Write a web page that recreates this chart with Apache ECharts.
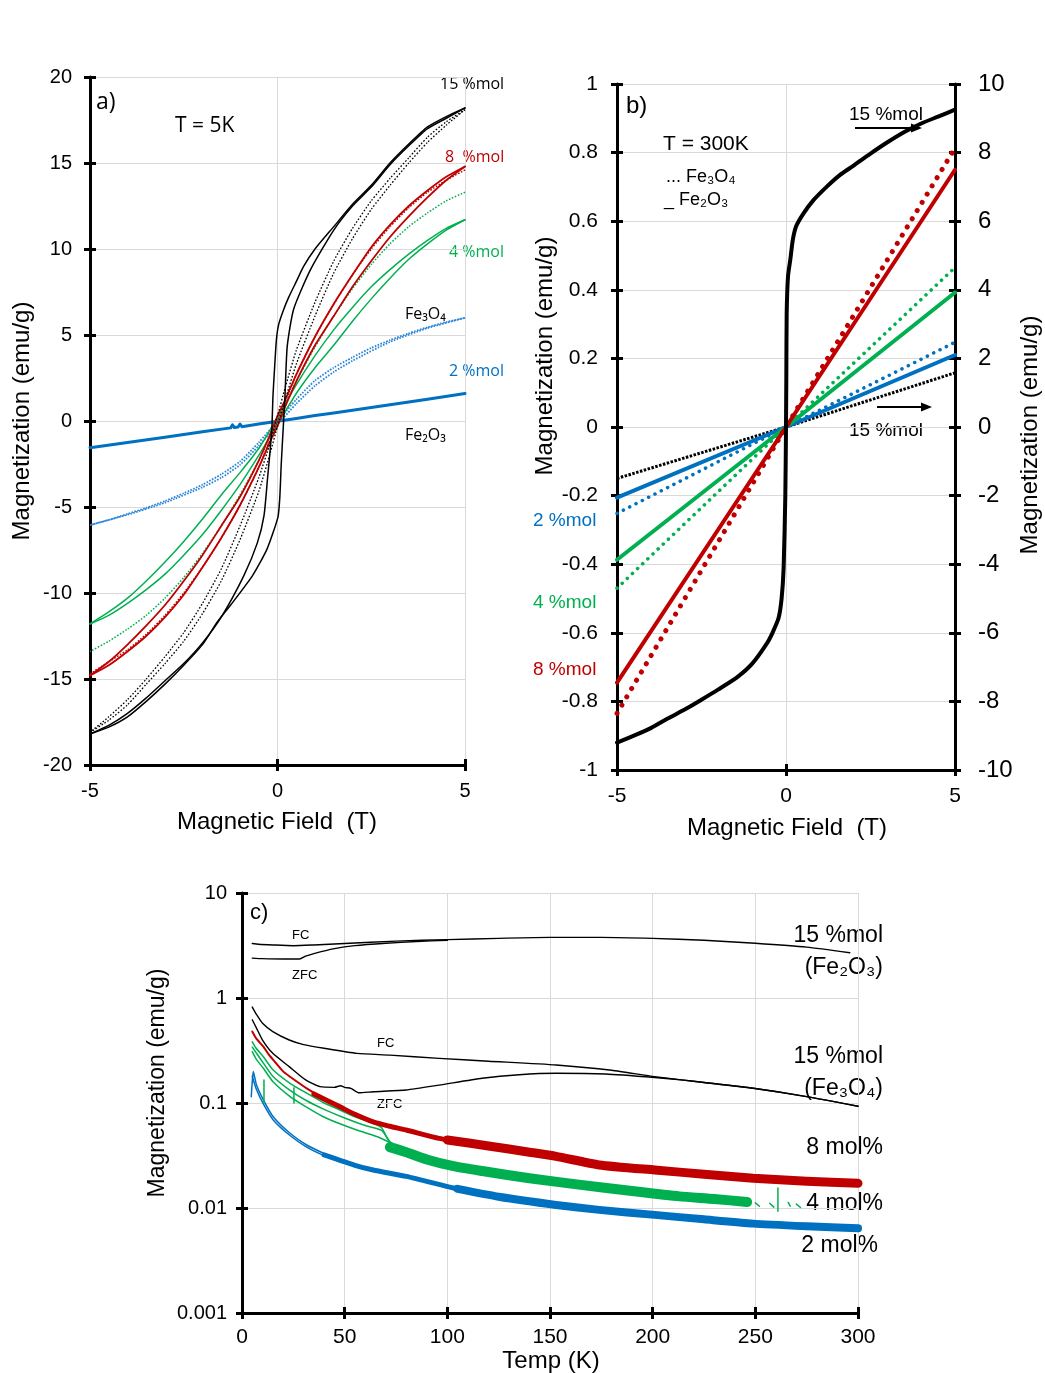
<!DOCTYPE html>
<html><head><meta charset="utf-8">
<script src="https://cdn.jsdelivr.net/npm/echarts@6/dist/echarts.min.js"></script>
<style>html,body{margin:0;padding:0;background:#fff}#c{width:1045px;height:1373px}</style>
</head><body><div id="c"></div>
<script>
// ---------- Panel a (T = 5K), [field T, magnetization emu/g] ----------
const aXTicks = [-5, 0, 5];
const aFe2O3_15_desc = [[5,18.2],[4.5,17.7],[4,17.1],[3.5,16.1],[3,15.0],[2.5,13.7],[2,12.6],[1.5,11.3],[1,10.0],[0.7,9.0],[0.5,8.1],[0.3,7.2],[0.15,6.4],[0.03,5.6],[-0.03,4.7],[-0.08,3.0],[-0.12,1.5],[-0.15,-0.4],[-0.2,-1.8],[-0.26,-3.2],[-0.36,-5.5],[-0.54,-7.1],[-0.9,-9.0],[-1.5,-11.4],[-2,-12.9],[-2.5,-14.1],[-3,-15.1],[-3.5,-16.1],[-4,-17.0],[-4.5,-17.7],[-5,-18.2]];
const aFe2O3_15_asc = [[-5,-18.2],[-4.5,-17.8],[-4,-17.2],[-3.5,-16.3],[-3,-15.3],[-2.5,-14.2],[-2,-13.0],[-1.61,-11.7],[-1.25,-10.7],[-0.67,-9.0],[-0.28,-7.45],[0.01,-5.6],[0.06,-4.5],[0.1,-2.5],[0.15,-0.5],[0.2,1.5],[0.26,4.35],[0.43,6.5],[0.88,8.8],[1.5,11.1],[2,12.5],[2.5,13.6],[3,14.9],[3.5,16.0],[4,17.0],[4.5,17.6],[5,18.2]];
const aFe3O4_15_desc = [[5,18.1],[4.5,17.4],[4,16.5],[3.5,15.3],[3,14.1],[2.5,12.8],[2,11.2],[1.5,9.3],[1,6.9],[0.5,4.1],[0.2,1.9],[0,0.3],[-0.2,-1.3],[-0.5,-3.3],[-1,-6.1],[-1.5,-8.6],[-2,-10.6],[-2.5,-12.3],[-3,-13.7],[-3.5,-15.0],[-4,-16.2],[-4.5,-17.2],[-5,-18.1]];
const aFe3O4_15_asc = [[-5,-18.1],[-4.5,-17.4],[-4,-16.5],[-3.5,-15.3],[-3,-14.1],[-2.5,-12.8],[-2,-11.2],[-1.5,-9.3],[-1,-6.9],[-0.5,-4.1],[-0.2,-1.9],[0,-0.3],[0.2,1.2],[0.5,3.3],[1,6.1],[1.5,8.6],[2,10.6],[2.5,12.3],[3,13.7],[3.5,15.0],[4,16.2],[4.5,17.2],[5,18.1]];
const aFe2O3_8_desc = [[5,14.8],[4.5,14.2],[4,13.4],[3.5,12.5],[3,11.4],[2.5,10.1],[2,8.5],[1.5,6.8],[1,4.9],[0.5,2.7],[0.2,1.2],[0,0.3],[-0.2,-0.8],[-0.5,-2.3],[-1,-4.4],[-1.5,-6.1],[-2,-7.8],[-2.5,-9.3],[-3,-10.7],[-3.5,-11.9],[-4,-13.0],[-4.5,-14.0],[-5,-14.8]];
const aFe2O3_8_asc = [[-5,-14.8],[-4.5,-14.2],[-4,-13.4],[-3.5,-12.5],[-3,-11.4],[-2.5,-10.1],[-2,-8.5],[-1.5,-6.8],[-1,-4.9],[-0.5,-2.7],[-0.2,-1.2],[0,-0.3],[0.2,0.8],[0.5,2.3],[1,4.4],[1.5,6.1],[2,7.8],[2.5,9.3],[3,10.7],[3.5,11.9],[4,13.0],[4.5,14.0],[5,14.8]];
const aFe3O4_8 = [[5,14.6],[4.5,14.0],[4,13.3],[3.5,12.4],[3,11.3],[2.5,10.0],[2,8.5],[1.5,6.8],[1,4.9],[0.5,2.7],[0,0],[-0.5,-2.7],[-1,-4.9],[-1.5,-6.8],[-2,-8.5],[-2.5,-10.0],[-3,-11.3],[-3.5,-12.4],[-4,-13.3],[-4.5,-14.0],[-5,-14.7]];
const aFe2O3_4_desc = [[5,11.7],[4.5,11.2],[4,10.5],[3.5,9.7],[3,8.8],[2.5,7.8],[2,6.6],[1.5,5.3],[1,3.8],[0.5,2.1],[0,0.2],[-0.5,-1.6],[-1,-3.0],[-1.5,-4.3],[-2,-5.7],[-2.5,-7.0],[-3,-8.2],[-3.5,-9.3],[-4,-10.3],[-4.5,-11.1],[-5,-11.8]];
const aFe2O3_4_asc = [[-5,-11.8],[-4.5,-11.3],[-4,-10.6],[-3.5,-9.8],[-3,-8.9],[-2.5,-7.8],[-2,-6.6],[-1.5,-5.2],[-1,-3.7],[-0.5,-2.0],[0,-0.2],[0.5,1.6],[1,3.1],[1.5,4.4],[2,5.8],[2.5,7.1],[3,8.3],[3.5,9.4],[4,10.3],[4.5,11.1],[5,11.7]];
const aFe3O4_4 = [[5,13.3],[4.5,12.8],[4,12.1],[3.5,11.3],[3,10.3],[2.5,9.1],[2,7.7],[1.5,6.1],[1,4.3],[0.5,2.3],[0,0],[-0.5,-2.3],[-1,-4.3],[-1.5,-6.1],[-2,-7.7],[-2.5,-9.1],[-3,-10.3],[-3.5,-11.3],[-4,-12.1],[-4.5,-12.8],[-5,-13.4]];
const aFe3O4_2_desc = [[5,6.0],[4.5,5.75],[4,5.45],[3.5,5.1],[3,4.7],[2.5,4.25],[2,3.7],[1.5,3.1],[1,2.35],[0.5,1.25],[0,0],[-0.5,-1.25],[-1,-2.35],[-1.5,-3.1],[-2,-3.7],[-2.5,-4.2],[-3,-4.65],[-3.5,-5.05],[-4,-5.4],[-4.5,-5.75],[-5,-6.05]];
const aFe3O4_2_asc = [[-5,-6.05],[-4,-5.45],[-3,-4.75],[-2,-3.85],[-1.5,-3.3],[-1,-2.55],[-0.5,-1.45],[0,-0.2],[0.5,1.0],[1,2.05],[1.5,2.85],[2,3.5],[3,4.6],[4,5.4],[5,6.0]];
const aFe2O3_2 = [[-5,-1.55],[-4,-1.25],[-3,-0.95],[-2,-0.63],[-1.25,-0.4],[-1.2,-0.22],[-1.15,-0.38],[-1.05,-0.35],[-1.0,-0.18],[-0.95,-0.33],[-0.5,-0.18],[0,-0.02],[0.5,0.15],[1,0.32],[1.5,0.46],[2,0.62],[3,0.95],[4,1.27],[5,1.6]];

// ---------- Panel b (T = 300K) ----------
const bFe2O3_15 = [[-5,-9.2],[-4.5,-9.0],[-4,-8.78],[-3.5,-8.5],[-2.93,-8.2],[-2.5,-7.95],[-2,-7.65],[-1.45,-7.3],[-1,-6.9],[-0.56,-6.3],[-0.4,-6.0],[-0.22,-5.57],[-0.13,-5.0],[-0.07,-4.1],[-0.02,-2.0],[0,0],[0.01,1.5],[0.02,3.3],[0.06,4.4],[0.13,4.9],[0.2,5.45],[0.3,5.85],[0.5,6.2],[0.8,6.6],[1.2,7.0],[1.6,7.35],[2,7.62],[2.5,7.97],[3,8.3],[3.5,8.6],[4,8.85],[4.5,9.05],[5,9.25]]; // right axis
const bFe3O4_15 = [[-5,-1.5],[0,0],[5,1.58]]; // right axis
const bFe2O3_8 = [[-5,-0.745],[0,0],[5,0.75]];
const bFe3O4_8 = [[-5,-0.835],[0,0],[5,0.813]];
const bFe2O3_4 = [[-5,-0.387],[0,0],[5,0.392]];
const bFe3O4_4 = [[-5,-0.47],[0,0],[5,0.465]];
const bFe2O3_2 = [[-5,-0.206],[0,0],[5,0.21]];
const bFe3O4_2 = [[-5,-0.252],[0,0],[5,0.247]];

// ---------- Panel c (M vs T) ----------
const cYTicks = [0.001, 0.01, 0.1, 1, 10];
const cFe2O3_FC = [[5,3.3],[8,3.25],[15,3.2],[25,3.15],[35,3.2],[50,3.3],[75,3.48],[100,3.6],[125,3.7],[150,3.78],[175,3.78],[200,3.7],[225,3.55],[250,3.32],[275,3.05],[296,2.7]];
const cFe2O3_ZFC = [[5,2.4],[10,2.37],[20,2.35],[28,2.35],[31,2.5],[35,2.65],[45,2.95],[55,3.15],[70,3.32],[85,3.45],[100,3.55]];
const cFe3O4_FC = [[5,0.82],[7,0.7],[10,0.574],[15,0.478],[23,0.398],[30,0.36],[40,0.332],[56,0.297],[72,0.286],[96,0.266],[120,0.25],[153,0.23],[180,0.205],[201,0.178],[225,0.157],[249,0.138],[275,0.115],[300,0.093]];
const cFe3O4_ZFC = [[5,0.62],[7,0.52],[10,0.398],[15,0.297],[23,0.222],[31,0.166],[38,0.143],[45,0.141],[48,0.146],[50,0.141],[53,0.138],[57,0.125],[64,0.128],[80,0.133],[96,0.148],[117,0.172],[135,0.186],[153,0.192],[177,0.189],[201,0.175],[215,0.165],[225,0.157],[249,0.138],[275,0.115],[300,0.093]];
const c8_early = [[5,0.48],[7,0.41],[10.4,0.344],[13,0.29],[15.2,0.257],[20,0.2],[23.4,0.178],[31.5,0.138],[40,0.11],[47.7,0.092],[55,0.078]];
const c8_band1 = [[35,0.122],[47.7,0.092],[55,0.078],[63.9,0.066],[72,0.06],[80,0.0553],[96,0.046],[110,0.042]];
const c8_band2 = [[100,0.0445],[120,0.039],[140,0.034],[153,0.031],[174,0.0257],[201,0.023],[225,0.021],[249,0.0192],[275,0.018],[300,0.0172]];
const c4_line1 = [[5,0.383],[7,0.33],[10.4,0.276],[15.2,0.206],[23.4,0.154],[31.5,0.124],[40,0.1],[47.7,0.0858],[55,0.074],[63.9,0.064],[68,0.058],[71,0.045],[74,0.038],[80,0.034]];
const c4_line2 = [[5,0.308],[7,0.26],[10.4,0.214],[15,0.16],[23.4,0.115],[30,0.095],[39.6,0.074],[48,0.063],[55.9,0.0553],[65.6,0.048],[72,0.042],[80,0.035]];
const c4_line3 = [[5,0.34],[10.4,0.24],[15,0.18],[23.4,0.132],[31.5,0.105],[40,0.087],[50,0.072],[60,0.061],[68,0.055],[72,0.043],[80,0.034]];
const c4_spikes = [[10.7,0.166],[10.7,0.1],[10.7,'-'],[25.3,0.14],[25.3,0.1]];
const c4_band = [[72,0.038],[80,0.034],[90,0.029],[103,0.025],[117,0.0225],[140,0.0192],[165,0.0166],[190,0.0145],[213,0.0129],[230,0.0122],[246,0.0114]];
const c4_tail = [[250,0.0112],[252,0.0104],[252,'-'],[257,0.0111],[259,0.0102],[259,'-'],[261,0.0155],[261,0.0093],[261,'-'],[266,0.0113],[267,0.0104],[267,'-'],[270,0.0109],[272,0.0101]];
const c2_early1 = [[4.5,0.115],[5,0.16],[5.5,0.199],[7,0.15],[10.4,0.107],[15.2,0.074],[23.4,0.0515],[31.5,0.0398],[40,0.033],[47.7,0.0287],[55,0.026]];
const c2_early2 = [[5,0.18],[7,0.135],[10.4,0.098],[15.2,0.069],[23.4,0.049],[31.5,0.038],[40,0.0315],[47.7,0.0275],[55,0.025]];
const c2_band1 = [[40,0.032],[55,0.0255],[63.9,0.023],[80,0.02],[103,0.0155],[115,0.0138]];
const c2_band2 = [[105,0.0152],[125,0.0128],[153,0.0107],[174,0.0096],[201,0.0086],[225,0.0078],[249,0.0071],[275,0.0067],[300,0.0064]];

const RED = '#c00000', GREEN = '#00b050', BLUE = '#0070c0', LBLUE = '#2a84d8';
const ARIAL = "'Liberation Sans', Arial, sans-serif";
const NARROW = "'Liberation Sans Narrow', 'Liberation Sans', Arial, sans-serif";
const CAL = "'Open Sans', 'Liberation Sans', sans-serif";

function axisMain(grid, min, max, interval, o) {
  o = o || {};
  return Object.assign({
    gridIndex: grid, type: 'value', min, max, interval,
    axisLine: {show: true, onZero: false, lineStyle: {color: '#000', width: 3}},
    axisTick: {show: true, inside: false, length: 6, lineStyle: {color: '#000', width: 3}},
    axisLabel: {show: true, color: '#000', fontSize: 20, fontFamily: ARIAL, margin: 16, showMinLabel: true, showMaxLabel: true},
    splitLine: {show: true, lineStyle: {color: '#d9d9d9', width: 1}}
  }, o);
}
function axisInner(grid, min, max, interval, o) {
  o = o || {};
  return Object.assign({
    gridIndex: grid, type: 'value', min, max, interval,
    axisLine: {show: false, onZero: false},
    axisTick: {show: true, inside: true, length: 6, lineStyle: {color: '#000', width: 3}},
    axisLabel: {show: false}, splitLine: {show: false}
  }, o);
}
function ln(data, xi, yi, color, width, type, smooth) {
  const dashed = Array.isArray(type) && type[0] > 0.5;
  return {
    type: 'line', data, xAxisIndex: xi, yAxisIndex: yi, showSymbol: false, symbol: 'none',
    silent: true, animation: false, connectNulls: false, smooth: smooth || false,
    lineStyle: {color, width, type: type || 'solid', cap: dashed ? 'butt' : 'round', join: 'round'}
  };
}
function txt(t, x, y, size, font, color, align) {
  return {type: 'text', x, y, silent: true, style: {text: t, fill: color || '#000', font: size + 'px ' + font, align: align || 'left', verticalAlign: 'middle'}};
}
function vtxt(t, x, y, size, font) {
  return {type: 'text', x, y, rotation: Math.PI / 2, silent: true, style: {text: t, fill: '#000', font: size + 'px ' + font, align: 'center', verticalAlign: 'middle'}};
}
function arrow(x1, x2, y) {
  return {type: 'group', silent: true, children: [
    {type: 'line', shape: {x1, y1: y, x2: x2 - 8, y2: y}, style: {stroke: '#000', lineWidth: 2}},
    {type: 'polygon', shape: {points: [[x2, y], [x2 - 11, y - 4.5], [x2 - 11, y + 4.5]]}, style: {fill: '#000'}}
  ]};
}

const logFmt = v => { const m = {0.001:'0.001', 0.01:'0.01', 0.1:'0.1', 1:'1', 10:'10'}; for (const k of cYTicks) { if (Math.abs(Math.log10(v) - Math.log10(k)) < 1e-6) return m[k]; } return ''; };
const S = 0.2;

const option = {
  backgroundColor: '#fff',
  animation: false,
  grid: [
    {left: 90, top: 77, width: 375, height: 688},
    {left: 617, top: 84, width: 338, height: 686},
    {left: 242, top: 893, width: 616, height: 420}
  ],
  xAxis: [
    axisMain(0, aXTicks[0], aXTicks[2], 5, {position: 'bottom'}),
    axisInner(0, aXTicks[0], aXTicks[2], 5, {position: 'bottom'}),
    axisMain(1, -5, 5, 5, {position: 'bottom', axisLabel: {color: '#000', fontSize: 21, fontFamily: ARIAL, margin: 16, showMinLabel: true, showMaxLabel: true}}),
    axisInner(1, -5, 5, 5, {position: 'bottom'}),
    axisMain(2, 0, 300, 50, {position: 'bottom', axisLabel: {color: '#000', fontSize: 21, fontFamily: NARROW, margin: 14, showMinLabel: true, showMaxLabel: true}}),
    axisInner(2, 0, 300, 50, {position: 'bottom'})
  ],
  yAxis: [
    axisMain(0, -20, 20, 5, {position: 'left', axisLabel: {color: '#000', fontSize: 20, fontFamily: ARIAL, margin: 18, showMinLabel: true, showMaxLabel: true}}),
    axisInner(0, -20, 20, 5, {position: 'left'}),
    axisMain(1, -1, 1, 0.2, {position: 'left', axisLabel: {color: '#000', fontSize: 21, fontFamily: ARIAL, margin: 19, showMinLabel: true, showMaxLabel: true}}),
    axisInner(1, -1, 1, 0.2, {position: 'left'}),
    axisMain(1, -10, 10, 2, {position: 'right', splitLine: {show: false}, axisLabel: {color: '#000', fontSize: 24, fontFamily: ARIAL, margin: 23, showMinLabel: true, showMaxLabel: true}}),
    axisInner(1, -10, 10, 2, {position: 'right'}),
    axisMain(2, 0.001, 10, null, {type: 'log', logBase: 10, position: 'left', axisLabel: {color: '#000', fontSize: 20, fontFamily: NARROW, margin: 15, showMinLabel: true, showMaxLabel: true, formatter: logFmt}}),
    axisInner(2, 0.001, 10, null, {type: 'log', logBase: 10, position: 'left'})
  ],
  series: [
    // panel a
    ln(aFe2O3_2, 0, 0, BLUE, 3),
    ln(aFe3O4_2_desc, 0, 0, LBLUE, 1.8, [1.6, 1.4], S),
    ln(aFe3O4_2_asc, 0, 0, LBLUE, 1.8, [1.6, 1.4], S),
    ln(aFe2O3_4_desc, 0, 0, GREEN, 1.5, null, S),
    ln(aFe2O3_4_asc, 0, 0, GREEN, 1.5, null, S),
    ln(aFe3O4_4, 0, 0, GREEN, 1.5, [1.6, 1.6], S),
    ln(aFe2O3_8_desc, 0, 0, RED, 1.8, null, S),
    ln(aFe2O3_8_asc, 0, 0, RED, 1.8, null, S),
    ln(aFe3O4_8, 0, 0, RED, 1.5, [1.6, 1.6], S),
    ln(aFe3O4_15_desc, 0, 0, '#000', 1.3, [1.6, 1.8], S),
    ln(aFe3O4_15_asc, 0, 0, '#000', 1.3, [1.6, 1.8], S),
    ln(aFe2O3_15_desc, 0, 0, '#000', 1.5, null, S),
    ln(aFe2O3_15_asc, 0, 0, '#000', 1.5, null, S),
    // panel b
    ln(bFe3O4_15, 2, 4, '#000', 3, [2.5, 1.5]),
    ln(bFe3O4_2, 2, 2, BLUE, 3.5, [0.1, 7]),
    ln(bFe2O3_2, 2, 2, BLUE, 4),
    ln(bFe3O4_4, 2, 2, GREEN, 3.5, [0.1, 7]),
    ln(bFe2O3_4, 2, 2, GREEN, 4),
    ln(bFe3O4_8, 2, 2, RED, 5, [0.1, 9.5]),
    ln(bFe2O3_8, 2, 2, RED, 4),
    ln(bFe2O3_15, 2, 4, '#000', 4, null, S),
    // panel c
    ln(cFe2O3_FC, 4, 6, '#000', 1.4, null, S),
    ln(cFe2O3_ZFC, 4, 6, '#000', 1.4, null, S),
    ln(cFe3O4_FC, 4, 6, '#000', 1.4, null, S),
    ln(cFe3O4_ZFC, 4, 6, '#000', 1.4, null, S),
    ln(c2_early1, 4, 6, BLUE, 1.5, null, S),
    ln(c2_early2, 4, 6, BLUE, 1.5, null, S),
    ln(c2_band1, 4, 6, BLUE, 5, null, S),
    ln(c2_band2, 4, 6, BLUE, 8, null, S),
    ln(c4_line1, 4, 6, GREEN, 1.5, null, S),
    ln(c4_line2, 4, 6, GREEN, 1.5, null, S),
    ln(c4_line3, 4, 6, GREEN, 1.5, null, S),
    ln(c4_spikes, 4, 6, GREEN, 1.5),
    ln(c4_band, 4, 6, GREEN, 10, null, S),
    ln(c4_tail, 4, 6, GREEN, 1.5),
    ln(c8_early, 4, 6, RED, 2, null, S),
    ln(c8_band1, 4, 6, RED, 5, null, S),
    ln(c8_band2, 4, 6, RED, 9, null, S)
  ],
  graphic: [
    // panel a
    txt('a)', 96, 102, 23, CAL),
    txt('T = 5K', 175, 126, 21, CAL),
    txt('15 %mol', 440, 84, 16, CAL),
    txt('8  %mol', 445, 157, 16, CAL, RED),
    txt('4 %mol', 449, 252, 16, CAL, GREEN),
    txt('Fe₃O₄', 405, 314, 16, CAL),
    txt('2 %mol', 449, 371, 16, CAL, BLUE),
    txt('Fe₂O₃', 405, 435, 16, CAL),
    vtxt('Magnetization (emu/g)', 22, 421, 24, ARIAL),
    txt('Magnetic Field  (T)', 277, 822, 24, ARIAL, '#000', 'center'),
    // panel b
    txt('b)', 626, 106, 24, ARIAL),
    txt('T = 300K', 663, 144, 21, ARIAL),
    txt('... Fe₃O₄', 666, 177, 18, ARIAL),
    txt('_ Fe₂O₃', 664, 200, 18, ARIAL),
    txt('15 %mol', 849, 115, 19, ARIAL),
    txt('15 %mol', 849, 431, 19, ARIAL),
    arrow(855, 922, 128),
    arrow(877, 932, 407),
    txt('2 %mol', 533, 521, 19, ARIAL, BLUE),
    txt('4 %mol', 533, 603, 19, ARIAL, GREEN),
    txt('8 %mol', 533, 670, 19, ARIAL, RED),
    vtxt('Magnetization (emu/g)', 545, 356, 24, ARIAL),
    vtxt('Magnetization (emu/g)', 1030, 435, 24, ARIAL),
    txt('Magnetic Field  (T)', 787, 828, 24, ARIAL, '#000', 'center'),
    // panel c
    txt('c)', 250, 913, 22, NARROW),
    txt('FC', 292, 935, 13, NARROW),
    txt('ZFC', 292, 975, 13, NARROW),
    txt('FC', 377, 1043, 13, NARROW),
    txt('ZFC', 377, 1104, 13, NARROW),
    txt('15 %mol', 883, 936, 23, NARROW, '#000', 'right'),
    txt('(Fe₂O₃)', 883, 968, 23, NARROW, '#000', 'right'),
    txt('15 %mol', 883, 1057, 23, NARROW, '#000', 'right'),
    txt('(Fe₃O₄)', 883, 1089, 23, NARROW, '#000', 'right'),
    txt('8 mol%', 883, 1148, 23, NARROW, '#000', 'right'),
    txt('4 mol%', 883, 1204, 23, NARROW, '#000', 'right'),
    txt('2 mol%', 878, 1246, 23, NARROW, '#000', 'right'),
    vtxt('Magnetization (emu/g)', 158, 1083, 23, NARROW),
    txt('Temp (K)', 551, 1361, 24, NARROW, '#000', 'center')
  ]
};
const chart = echarts.init(document.getElementById('c'), null, {renderer: 'canvas'});
chart.setOption(option);
</script></body></html>
